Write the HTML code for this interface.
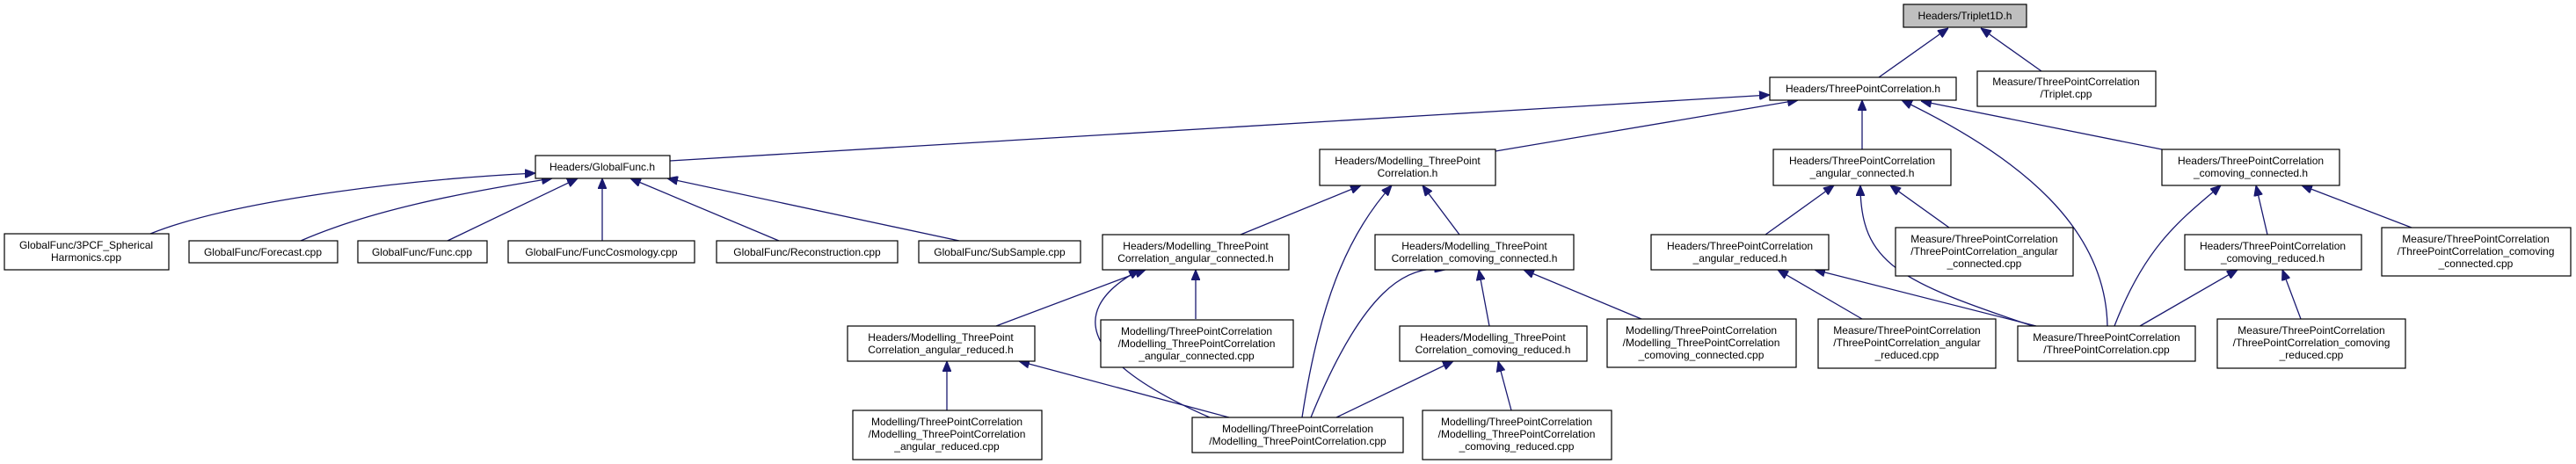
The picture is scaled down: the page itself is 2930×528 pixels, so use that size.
<!DOCTYPE html>
<html><head><meta charset="utf-8"><style>
html,body{margin:0;padding:0;background:#fff;}
svg{display:block;}
text{font-family:"Liberation Sans",Arial,sans-serif;font-size:12px;fill:#000;text-anchor:middle;}
rect{fill:#fff;stroke:#000;stroke-width:1.2;}
path{fill:none;stroke:#191970;stroke-width:1.3;}
</style></head><body>
<svg width="2930" height="528" viewBox="0 0 2930 528" xmlns="http://www.w3.org/2000/svg">
<defs>
<marker id="a" viewBox="0 0 12 10" refX="12" refY="5" markerWidth="12" markerHeight="10" markerUnits="userSpaceOnUse" orient="auto">
<path d="M0,0 L12,5 L0,10 z" style="fill:#191970;stroke:#191970;stroke-width:1"/>
</marker>
</defs>
<g marker-end="url(#a)">
<path d="M2137,88 L2216,32"/>
<path d="M2322,81 L2253,32"/>
<path d="M762,183 L2013,108"/>
<path d="M1701,172 L2045,114"/>
<path d="M2118,170 L2118,114"/>
<path d="M2397,371 C2395,260 2300,180 2163,114"/>
<path d="M2459,170 L2185,115"/>
<path d="M171,266 C260,230 450,205 609,197"/>
<path d="M342,274 C420,240 520,220 628,203"/>
<path d="M509,274 L657,203"/>
<path d="M685,274 L685,203"/>
<path d="M886,274 L717,203"/>
<path d="M1091,274 L759,203"/>
<path d="M1411,267 L1548,211"/>
<path d="M1481,475 C1500,350 1530,270 1583,211"/>
<path d="M1660,267 L1618,211"/>
<path d="M1133,371 L1303,307"/>
<path d="M1376,475 C1250,420 1200,360 1296,307"/>
<path d="M1360,363 L1360,307"/>
<path d="M1491,475 C1550,330 1600,300 1644,307"/>
<path d="M1694,371 L1682,307"/>
<path d="M1867,363 L1733,307"/>
<path d="M1077,467 L1077,411"/>
<path d="M1398,475 L1159,411"/>
<path d="M1520,475 L1653,411"/>
<path d="M1719,467 L1704,411"/>
<path d="M2008,267 L2086,211"/>
<path d="M2312,371 C2160,320 2116,300 2116,211"/>
<path d="M2217,259 L2150,211"/>
<path d="M2405,371 C2440,280 2480,250 2526,211"/>
<path d="M2579,267 L2566,211"/>
<path d="M2743,259 L2618,211"/>
<path d="M2118,363 L2022,307"/>
<path d="M2316,371 L2064,307"/>
<path d="M2434,371 L2545,307"/>
<path d="M2617,363 L2596,307"/>
</g>

<rect x="2165" y="5" width="140" height="26" style="fill:#bfbfbf"/>
<text x="2235" y="22">Headers/Triplet1D.h</text>

<rect x="2013" y="88" width="212" height="26"/>
<text x="2119" y="105">Headers/ThreePointCorrelation.h</text>

<rect x="2249" y="81" width="203" height="40"/>
<text x="2350" y="97">Measure/ThreePointCorrelation</text>
<text x="2350" y="111">/Triplet.cpp</text>

<rect x="609" y="177" width="153" height="26"/>
<text x="685" y="194">Headers/GlobalFunc.h</text>

<rect x="1501" y="170" width="200" height="41"/>
<text x="1601" y="187">Headers/Modelling_ThreePoint</text>
<text x="1601" y="201">Correlation.h</text>

<rect x="2017" y="170" width="202" height="41"/>
<text x="2118" y="187">Headers/ThreePointCorrelation</text>
<text x="2118" y="201">_angular_connected.h</text>

<rect x="2459" y="170" width="202" height="41"/>
<text x="2560" y="187">Headers/ThreePointCorrelation</text>
<text x="2560" y="201">_comoving_connected.h</text>

<rect x="5" y="266" width="187" height="41"/>
<text x="98" y="283">GlobalFunc/3PCF_Spherical</text>
<text x="98" y="297">Harmonics.cpp</text>

<rect x="215" y="274" width="169" height="25"/>
<text x="299" y="291">GlobalFunc/Forecast.cpp</text>
<rect x="407" y="274" width="147" height="25"/>
<text x="480" y="291">GlobalFunc/Func.cpp</text>
<rect x="578" y="274" width="212" height="25"/>
<text x="684" y="291">GlobalFunc/FuncCosmology.cpp</text>
<rect x="815" y="274" width="206" height="25"/>
<text x="918" y="291">GlobalFunc/Reconstruction.cpp</text>
<rect x="1045" y="274" width="184" height="25"/>
<text x="1137" y="291">GlobalFunc/SubSample.cpp</text>

<rect x="1254" y="267" width="212" height="40"/>
<text x="1360" y="284">Headers/Modelling_ThreePoint</text>
<text x="1360" y="298">Correlation_angular_connected.h</text>

<rect x="1564" y="267" width="226" height="40"/>
<text x="1677" y="284">Headers/Modelling_ThreePoint</text>
<text x="1677" y="298">Correlation_comoving_connected.h</text>

<rect x="1878" y="267" width="202" height="40"/>
<text x="1979" y="284">Headers/ThreePointCorrelation</text>
<text x="1979" y="298">_angular_reduced.h</text>

<rect x="2156" y="259" width="202" height="55"/>
<text x="2257" y="276">Measure/ThreePointCorrelation</text>
<text x="2257" y="290">/ThreePointCorrelation_angular</text>
<text x="2257" y="304">_connected.cpp</text>

<rect x="2485" y="267" width="201" height="40"/>
<text x="2585" y="284">Headers/ThreePointCorrelation</text>
<text x="2585" y="298">_comoving_reduced.h</text>

<rect x="2709" y="259" width="215" height="55"/>
<text x="2816" y="276">Measure/ThreePointCorrelation</text>
<text x="2816" y="290">/ThreePointCorrelation_comoving</text>
<text x="2816" y="304">_connected.cpp</text>

<rect x="964" y="371" width="213" height="40"/>
<text x="1070" y="388">Headers/Modelling_ThreePoint</text>
<text x="1070" y="402">Correlation_angular_reduced.h</text>

<rect x="1252" y="364" width="219" height="54"/>
<text x="1361" y="381">Modelling/ThreePointCorrelation</text>
<text x="1361" y="395">/Modelling_ThreePointCorrelation</text>
<text x="1361" y="409">_angular_connected.cpp</text>

<rect x="1592" y="371" width="213" height="40"/>
<text x="1698" y="388">Headers/Modelling_ThreePoint</text>
<text x="1698" y="402">Correlation_comoving_reduced.h</text>

<rect x="1828" y="363" width="215" height="55"/>
<text x="1935" y="380">Modelling/ThreePointCorrelation</text>
<text x="1935" y="394">/Modelling_ThreePointCorrelation</text>
<text x="1935" y="408">_comoving_connected.cpp</text>

<rect x="2068" y="363" width="202" height="56"/>
<text x="2169" y="380">Measure/ThreePointCorrelation</text>
<text x="2169" y="394">/ThreePointCorrelation_angular</text>
<text x="2169" y="408">_reduced.cpp</text>

<rect x="2295" y="371" width="202" height="40"/>
<text x="2396" y="388">Measure/ThreePointCorrelation</text>
<text x="2396" y="402">/ThreePointCorrelation.cpp</text>

<rect x="2522" y="363" width="214" height="56"/>
<text x="2629" y="380">Measure/ThreePointCorrelation</text>
<text x="2629" y="394">/ThreePointCorrelation_comoving</text>
<text x="2629" y="408">_reduced.cpp</text>

<rect x="970" y="467" width="215" height="56"/>
<text x="1077" y="484">Modelling/ThreePointCorrelation</text>
<text x="1077" y="498">/Modelling_ThreePointCorrelation</text>
<text x="1077" y="512">_angular_reduced.cpp</text>

<rect x="1356" y="475" width="240" height="40"/>
<text x="1476" y="492">Modelling/ThreePointCorrelation</text>
<text x="1476" y="506">/Modelling_ThreePointCorrelation.cpp</text>

<rect x="1618" y="467" width="215" height="56"/>
<text x="1725" y="484">Modelling/ThreePointCorrelation</text>
<text x="1725" y="498">/Modelling_ThreePointCorrelation</text>
<text x="1725" y="512">_comoving_reduced.cpp</text>
</svg>
</body></html>
